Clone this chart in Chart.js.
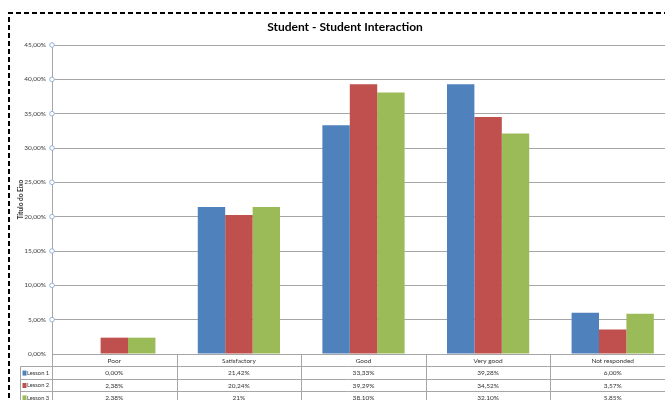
<!DOCTYPE html>
<html>
<head>
<meta charset="utf-8">
<script src="https://cdn.jsdelivr.net/npm/chart.js@4.4.0/dist/chart.umd.min.js"></script>
<style>
  html, body { margin: 0; padding: 0; background: #fff; overflow: hidden; }
  #wrap { width: 690px; height: 420px; }
</style>
</head>
<body>
<div id="wrap"><canvas id="myChart"></canvas></div>
<script>
// categorieen en waarden (in procent)
var categories = ['Poor', 'Satisfactory', 'Good', 'Very good', 'Not responded'];
var seriesNames = ['Lesson 1', 'Lesson 2', 'Lesson 3'];
var lesson1 = [0, 21.42, 33.33, 39.28, 6.00];
var lesson2 = [2.38, 20.24, 39.29, 34.52, 3.57];
var lesson3 = [2.38, 21.42, 38.10, 32.10, 5.85];
// tekst zoals in de datatabel staat (21% staat zonder decimalen)
var lesson3Text = ['2,38%', '21%', '38,10%', '32,10%', '5,85%'];
var yTicks = [0, 5, 10, 15, 20, 25, 30, 35, 40, 45];

var colors = ['#4F81BD', '#C0504D', '#9BBB59'];

function pct(v) {
    return v.toFixed(2).replace('.', ',') + '%';
}

var tableRows = [
    lesson1.map(pct),
    lesson2.map(pct),
    lesson3Text
];

var FONT = 'Lato, "Open Sans", sans-serif';

// extra tekenwerk: kader, titel, as-titel, cirkeltjes en de datatabel
var excelLook = {
    id: 'excelLook',
    afterDraw: function(chart) {
        var c = chart.ctx;
        var area = chart.chartArea;
        var x = chart.scales.x;
        var y = chart.scales.y;
        c.save();

        // gestippeld kader
        c.strokeStyle = '#000';
        c.lineWidth = 2;
        c.setLineDash([5, 3]);
        c.beginPath();
        c.moveTo(9, 430);
        c.lineTo(9, 13);
        c.lineTo(700, 13);
        c.stroke();
        c.setLineDash([]);

        // titel
        c.fillStyle = '#000';
        c.font = 'bold 12px ' + FONT;
        c.textAlign = 'center';
        c.textBaseline = 'middle';
        c.fillText('Student - Student Interaction', 345, 27);

        // as-titel
        c.save();
        c.translate(21, (area.top + area.bottom) / 2);
        c.rotate(-Math.PI / 2);
        c.font = 'bold 6.5px ' + FONT;
        c.fillStyle = '#333';
        c.fillText('Título do Eixo', 0, 0);
        c.restore();

        // cirkeltjes op de y-as
        c.strokeStyle = '#95B3D7';
        c.fillStyle = '#fff';
        c.lineWidth = 1;
        yTicks.forEach(function(t) {
            if (t === 0) return;
            var py = y.getPixelForValue(t);
            c.beginPath();
            c.arc(area.left, py, 2.3, 0, Math.PI * 2);
            c.fill();
            c.stroke();
        });

        // datatabel
        var half = (x.getPixelForValue(1) - x.getPixelForValue(0)) / 2;
        var rowH = 12.4;
        var top = area.bottom;
        var legendLeft = 20.5;
        var right = x.getPixelForValue(categories.length - 1) + half;
        c.strokeStyle = '#A6A6A6';
        c.lineWidth = 1;
        c.beginPath();
        c.moveTo(area.left, top + 0.5);
        c.lineTo(right, top + 0.5);
        for (var k = 1; k <= 4; k++) {
            var ly = Math.round(top + rowH * k) + 0.5;
            c.moveTo(legendLeft, ly);
            c.lineTo(right, ly);
        }
        c.moveTo(legendLeft, top + rowH);
        c.lineTo(legendLeft, top + rowH * 5);
        for (var i = 0; i <= categories.length; i++) {
            var lx = Math.round(x.getPixelForValue(0) - half + i * half * 2) + 0.5;
            c.moveTo(lx, top);
            c.lineTo(lx, top + rowH * 5);
        }
        c.stroke();

        c.font = '6.5px ' + FONT;
        c.fillStyle = '#333';
        c.textAlign = 'center';
        categories.forEach(function(cat, i) {
            c.fillText(cat, x.getPixelForValue(i), top + rowH / 2 + 0.5);
        });
        tableRows.forEach(function(row, r) {
            var cy = top + rowH * (r + 1) + rowH / 2 + 0.5;
            c.font = '6.5px ' + FONT;
            row.forEach(function(txt, i) {
                c.fillStyle = '#333';
                c.textAlign = 'center';
                c.fillText(txt, x.getPixelForValue(i), cy);
            });
            c.fillStyle = colors[r];
            c.fillRect(22.5, cy - 2.5, 4, 5);
            c.fillStyle = '#333';
            c.textAlign = 'left';
            c.font = '5.8px ' + FONT;
            c.fillText(seriesNames[r], 27, cy);
        });

        c.restore();
    }
};

var ctx1 = document.getElementById('myChart');
var myChart = new Chart(ctx1, {
    type: 'bar',
    data: {
        labels: categories,
        datasets: [
            { label: seriesNames[0], data: lesson1, backgroundColor: colors[0] },
            { label: seriesNames[1], data: lesson2, backgroundColor: colors[1] },
            { label: seriesNames[2], data: lesson3, backgroundColor: colors[2] }
        ]
    },
    options: {
        responsive: true,
        maintainAspectRatio: false,
        animation: false,
        events: [],
        layout: { padding: { top: 45, right: 15, left: 0, bottom: 0 } },
        datasets: {
            bar: { categoryPercentage: 0.66, barPercentage: 1.0, borderWidth: 0 }
        },
        plugins: {
            legend: { display: false },
            title: { display: false },
            tooltip: { enabled: false }
        },
        scales: {
            x: {
                grid: { display: false },
                border: { display: false },
                ticks: { display: false },
                afterFit: function(scale) { scale.height = 66; }
            },
            y: {
                min: 0,
                max: 45,
                afterBuildTicks: function(scale) {
                    scale.ticks = yTicks.map(function(v) { return { value: v }; });
                },
                grid: { color: '#A6A6A6', lineWidth: 1, drawTicks: false },
                border: { color: '#A6A6A6', width: 1 },
                ticks: {
                    padding: 6,
                    color: '#404040',
                    font: { family: FONT, size: 6.5 },
                    callback: function(v) { return pct(v); }
                },
                afterFit: function(scale) { scale.width = 52; }
            }
        }
    },
    plugins: [excelLook]
});
</script>
</body>
</html>
